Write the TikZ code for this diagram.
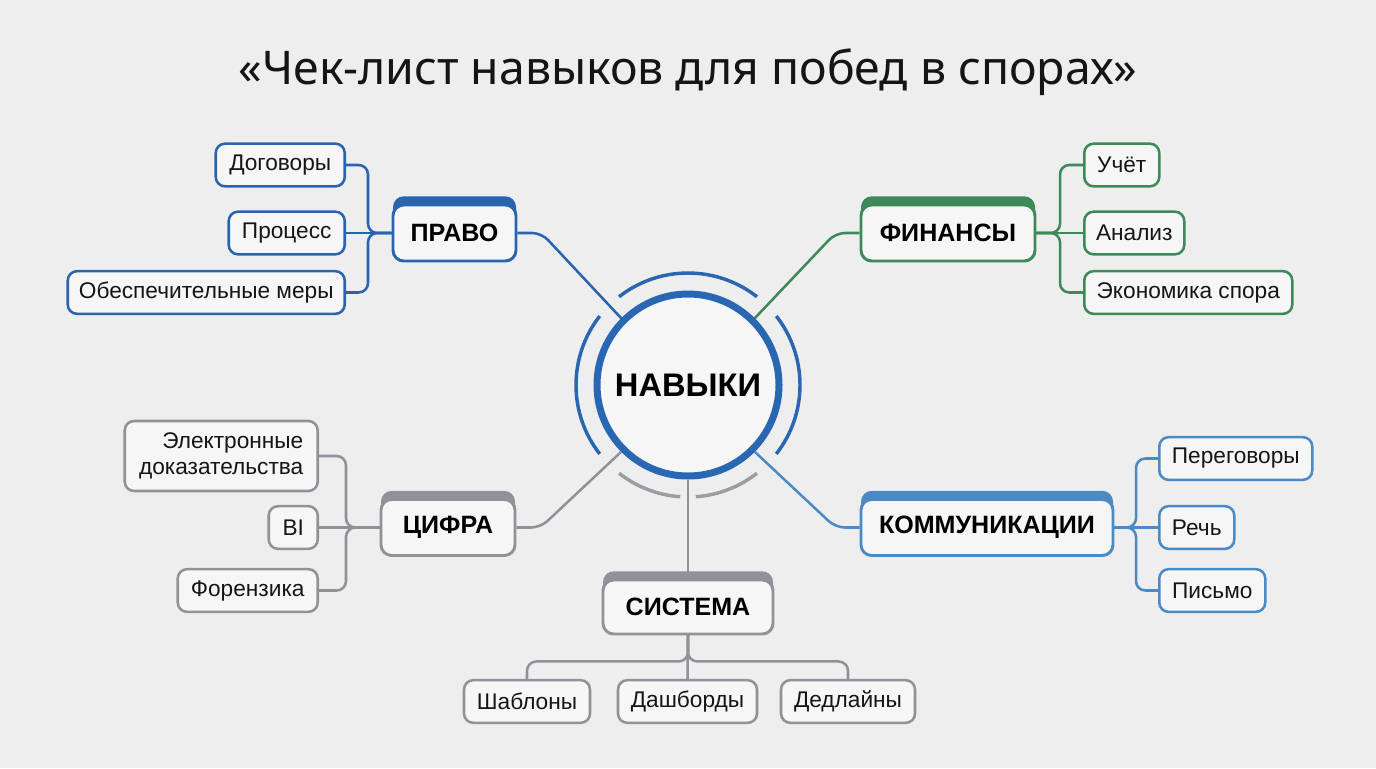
\documentclass[tikz,border=0pt]{standalone}
\usepackage{fontspec}
\setmainfont{Liberation Sans}
\newfontfamily\titlefont{Noto Sans}
\usetikzlibrary{shadows}
\definecolor{bg}{HTML}{EEEEEE}
\definecolor{boxfill}{HTML}{F6F6F6}
\definecolor{cblue}{HTML}{2A64AD}
\definecolor{cgreen}{HTML}{3D8A58}
\definecolor{clblue}{HTML}{4A8BC6}
\definecolor{cgray}{HTML}{8F9399}
\definecolor{lgray}{HTML}{9A9DA2}
\definecolor{ringc}{HTML}{2A67B2}
\definecolor{txt}{HTML}{151515}
\begin{document}
\begin{tikzpicture}[x=0.75pt,y=-0.75pt,
  leaf/.style={draw=#1, line width=1.9pt, rounded corners=7pt, fill=boxfill, minimum height=32pt, inner sep=0pt, font=\fontsize{17}{19.5}\selectfont, text=txt},
  bw/.style={minimum width=#1*0.75pt},
  cat/.style={draw=#1, line width=2.2pt, rounded corners=8pt, fill=boxfill, minimum height=42pt, inner sep=0pt, font=\fontsize{18.8}{22}\selectfont\bfseries, text=black, general shadow={fill=#1, shadow xshift=0pt, shadow yshift=6.5pt, shadow scale=1}},
  link/.style={draw=#1, line width=1.9pt, rounded corners=7pt},
  arcline/.style={draw=#1, line width=2.6pt},
]
\fill[bg] (0,0) rectangle (1376,768);
\useasboundingbox (0,0) rectangle (1376,768);

% title
\node[font=\titlefont\fontsize{34.8}{40}\selectfont, text=txt, anchor=base] (title) at (688,84) {«Чек-лист навыков для побед в спорах»};

% hub
\node[circle, draw=ringc, line width=5.25pt, fill=boxfill, minimum size=136.5pt, inner sep=0pt, font=\fontsize{24.5}{28}\selectfont\bfseries, text=black] (hub) at (688,385) {НАВЫКИ};
\draw[arcline=ringc] ([shift={(52:84pt)}]hub.center) arc[start angle=52, end angle=128, radius=84pt];
\draw[arcline=ringc] ([shift={(142:84pt)}]hub.center) arc[start angle=142, end angle=218, radius=84pt];
\draw[arcline=ringc] ([shift={(-38:84pt)}]hub.center) arc[start angle=-38, end angle=38, radius=84pt];
\draw[arcline=lgray] ([shift={(232:84pt)}]hub.center) arc[start angle=232, end angle=266, radius=84pt];
\draw[arcline=lgray] ([shift={(274:84pt)}]hub.center) arc[start angle=274, end angle=308, radius=84pt];

% categories
\node[cat=cblue, bw=123] (pravo) at (454.5,233) {ПРАВО};
\node[cat=cgreen, bw=174] (fin) at (948,233) {ФИНАНСЫ};
\node[cat=cgray, bw=134] (cif) at (448,527.5) {ЦИФРА};
\node[cat=clblue, bw=252] (kom) at (987,527.5) {КОММУНИКАЦИИ};
\node[cat=cgray, bw=170, minimum height=40.5pt] (sys) at (688,607) {СИСТЕМА};

% leaves: ПРАВО
\node[leaf=cblue, bw=129, anchor=east] (dog) at (346,165) {Договоры};
\node[leaf=cblue, bw=116, anchor=east] (pro) at (346,233) {Процесс};
\node[leaf=cblue, bw=277, anchor=east] (obe) at (346,292.5) {Обеспечительные меры};
% leaves: ФИНАНСЫ
\node[leaf=cgreen, bw=75, anchor=west] (uch) at (1083,165) {Учёт};
\node[leaf=cgreen, bw=100, anchor=west] (ana) at (1083,233) {Анализ};
\node[leaf=cgreen, bw=208, anchor=west] (eko) at (1083,292.5) {Экономика спора};
% leaves: КОММУНИКАЦИИ
\node[leaf=clblue, bw=153, anchor=west] (per) at (1158,458.5) {Переговоры};
\node[leaf=clblue, bw=75, anchor=west] (rech) at (1158,527.5) {Речь};
\node[leaf=clblue, bw=106, anchor=west] (pis) at (1158,590.5) {Письмо};
% leaves: ЦИФРА
\node[leaf=cgray, bw=193, minimum height=52.5pt, anchor=east, align=right] (ele) at (319,456) {Электронные\\доказательства};
\node[leaf=cgray, bw=49, anchor=east] (bi) at (319,527.5) {BI};
\node[leaf=cgray, bw=140, anchor=east] (for) at (319,590.5) {Форензика};
% leaves: СИСТЕМА
\node[leaf=cgray, bw=126] (sha) at (527,701.5) {Шаблоны};
\node[leaf=cgray, bw=139] (das) at (687.5,701.5) {Дашборды};
\node[leaf=cgray, bw=134] (ded) at (848,701.5) {Дедлайны};

% hub connectors
\draw[link=cblue] (pravo.east) -- ++(24,0) -- (hub.135);
\draw[link=cgreen] (fin.west) -- ++(-24,0) -- (hub.45);
\draw[link=cgray] (cif.east) -- ++(24,0) -- (hub.225);
\draw[link=clblue] (kom.west) -- ++(-24,0) -- (hub.315);
\draw[link=cgray] (hub.south) -- ([yshift=5pt]sys.north);

% leaf connectors
\draw[link=cblue] (dog.east) -- ++(22,0) |- (pravo.west);
\draw[link=cblue] (pro.east) -- (pravo.west);
\draw[link=cblue] (obe.east) -- ++(22,0) |- (pravo.west);

\draw[link=cgreen] (uch.west) -- ++(-23,0) |- (fin.east);
\draw[link=cgreen] (ana.west) -- (fin.east);
\draw[link=cgreen] (eko.west) -- ++(-23,0) |- (fin.east);

\draw[link=clblue] (per.west) -- ++(-22,0) |- (kom.east);
\draw[link=clblue] (rech.west) -- (kom.east);
\draw[link=clblue] (pis.west) -- ++(-22,0) |- (kom.east);

\draw[link=cgray] (ele.east) -- ++(27,0) |- (cif.west);
\draw[link=cgray] (bi.east) -- (cif.west);
\draw[link=cgray] (for.east) -- ++(27,0) |- (cif.west);

\draw[link=cgray] (sys.south) -- ++(0,26) -| (sha.north);
\draw[link=cgray] (sys.south) -- (das.north);
\draw[link=cgray] (sys.south) -- ++(0,26) -| (ded.north);
\end{tikzpicture}
\end{document}
